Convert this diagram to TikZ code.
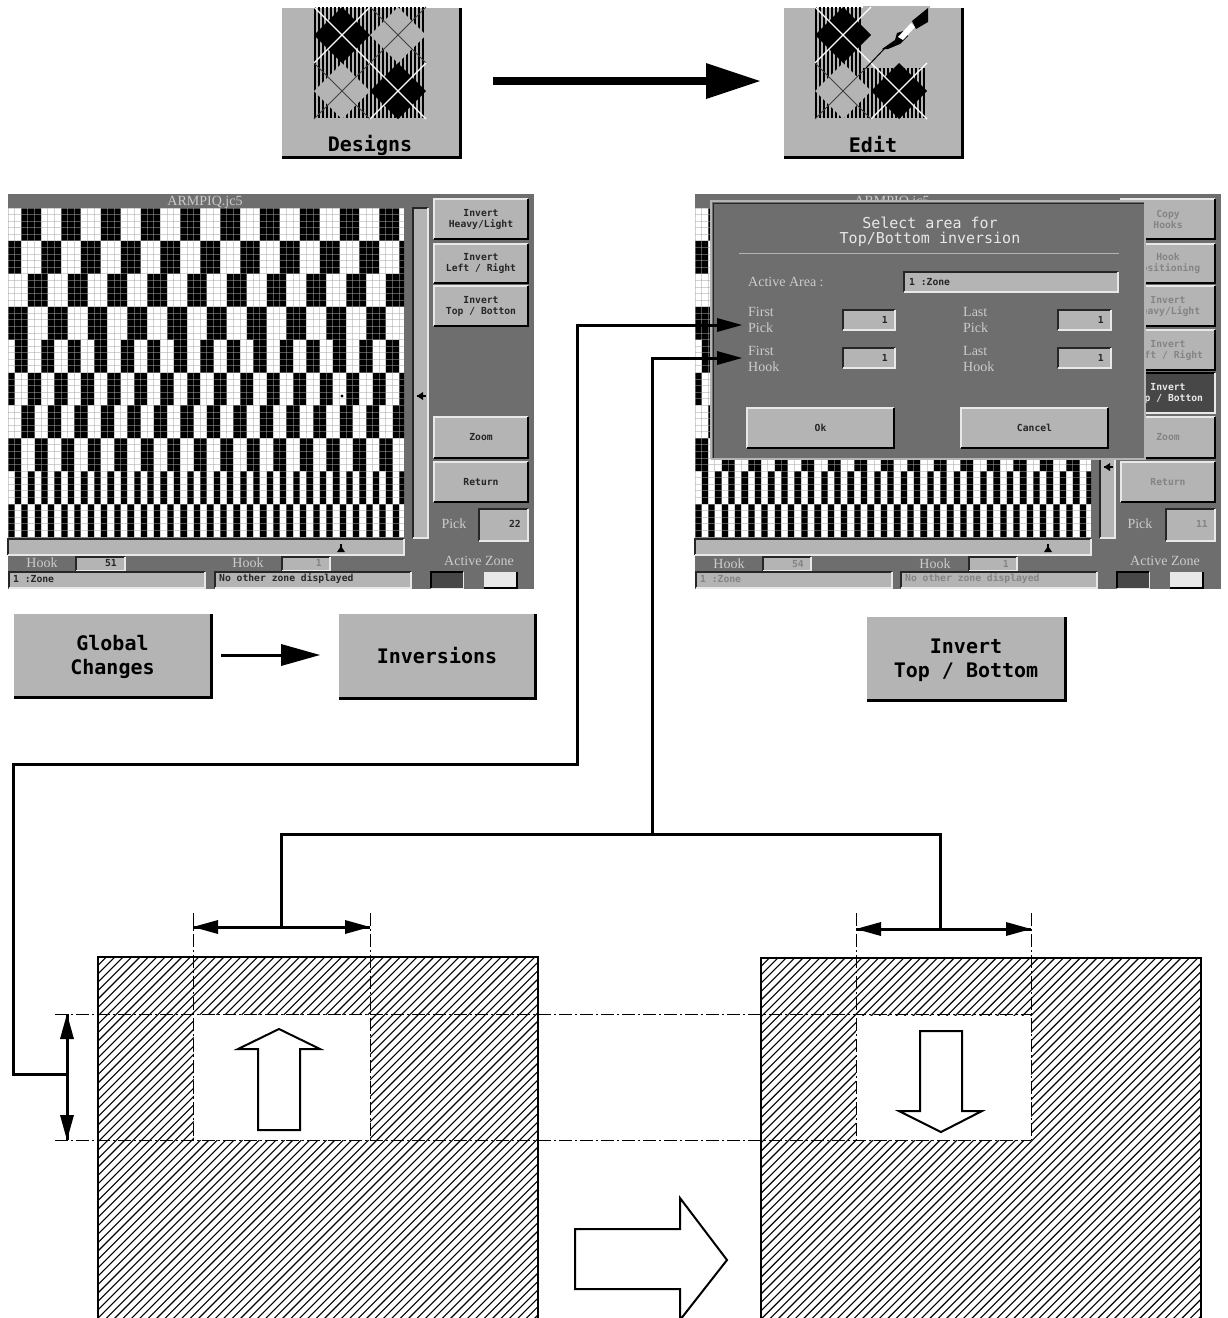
\documentclass[tikz,border=0pt]{standalone}
\usepackage{fontspec}
\setmainfont{Liberation Serif}
\setmonofont{DejaVu Sans Mono}
\usetikzlibrary{calc}
\definecolor{scr}{HTML}{6E6E6E}
\definecolor{face}{HTML}{B4B4B4}
\definecolor{hi}{HTML}{E8E8E8}
\definecolor{lab}{HTML}{CCCCCC}
\definecolor{ghost}{HTML}{848484}
\tikzset{
  x=1pt,y=-1pt,line width=1pt,
  smalltxt/.style={inner sep=0pt,align=center,font=\ttfamily\bfseries\fontsize{9.7}{11}\selectfont,text=black!85},
  ghosttxt/.style={smalltxt,text=ghost},
  seltxt/.style={smalltxt,text=hi},
  bigtxt/.style={inner sep=0pt,align=center,font=\ttfamily\bfseries\fontsize{20}{24}\selectfont,text=black},
  lbl/.style={inner sep=0pt,align=left,font=\fontsize{14}{16}\selectfont,text=lab},
  dlgtitle/.style={inner sep=0pt,align=center,font=\ttfamily\fontsize{15}{15}\selectfont,text=hi},
  dashline/.style={line width=1pt,dash pattern=on 13pt off 3pt on 2pt off 3pt},
  wire/.style={line width=3pt,line join=miter},
  tip/.style={fill=black,draw=none},
  block/.style={draw=black,line width=2pt,fill=white,line join=miter},
}
% raised button: style, name, x1,y1,x2,y2, text
\newcommand\rbtn[7]{%
  \fill[face] (#3,#4) rectangle (#5,#6);
  \draw[hi,line width=1.3pt] (#3,#6)--(#3,#4)--(#5,#4);
  \draw[black,line width=2pt] (#3,#6)--(#5,#6)--(#5,#4);
  \node[#1] (#2) at ({(#3+#5)/2},{(#4+#6)/2}) {#7};}
% big raised button on white
\newcommand\bbtn[7]{%
  \fill[face] (#2,#3) rectangle (#4,#5);
  \draw[black,line width=3pt] (#2,#5)--(#4,#5)--(#4,#3);
  \node[bigtxt] (#1) at ({(#2+#4)/2},{(#3+#5)/2+#6}) {#7};}
% sunken field: x1,y1,x2,y2
\newcommand\sunk[4]{%
  \fill[face] (#1,#2) rectangle (#3,#4);
  \draw[black!85,line width=1.3pt] (#1,#4)--(#1,#2)--(#3,#2);
  \draw[hi,line width=1.3pt] (#1,#4)--(#3,#4)--(#3,#2);}
% weave at x0
\newcommand\weave[1]{%
  \fill[white] (#1,208) rectangle ({#1+396},537);
  \begin{scope}
    \clip (#1,208) rectangle ({#1+396},537);
    \foreach \b/\o/\p/\w in {0/2/6/3,1/-1/6/3,2/3/6/3,3/0/6/3,4/1/4/2,5/-1/4/2,6/2/4/2,7/0/4/2,8/1/2/1,9/0/2/1}{
      \foreach \k in {0,...,30}{
        \fill[black] ({#1+(\k*\p+\o)*6.63},{208+\b*32.9}) rectangle ({#1+(\k*\p+\o+\w)*6.63},{208+(\b+1)*32.9});
      }
    }
    \foreach \k in {0,...,60}{\draw[black!35,opacity=.5,line width=.9pt] ({#1+\k*6.63},208)--({#1+\k*6.63},537);}
    \foreach \k in {0,...,50}{\draw[black!35,opacity=.5,line width=.9pt] (#1,{208+\k*6.58})--({#1+396},{208+\k*6.58});}
  \end{scope}}
% scrollbars and markers, offset dx, vertical marker y, horizontal marker x
\newcommand\bars[3]{%
  \sunk{413+#1}{208}{428+#1}{538}
  \sunk{8+#1}{539}{404+#1}{555}
  \fill[black] ({417+#1},{#2-1}) rectangle ({426+#1},{#2+1});
  \fill[black] ({417+#1},#2)--({423+#1},{#2-4})--({423+#1},{#2+4})--cycle;
  \fill[black] ({#3-1},544) rectangle ({#3+1},552);
  \fill[black] ({#3-4},552)--({#3+4},552)--(#3,546)--cycle;}
% hatched sheet
\newcommand\hatch[4]{%
  \begin{scope}
    \clip (#1,#2) rectangle (#3,#4);
    \foreach \k in {0,...,100}{\draw[black,line width=1.1pt] ({#1+\k*8.4},#2)--({#1+\k*8.4-370},{#2+370});}
  \end{scope}}
% argyle quadrants: x,y top-left
\newcommand\qdark[2]{%
  \fill[black] ({#1+28},#2)--({#1+56},{#2+28})--({#1+28},{#2+56})--(#1,{#2+28})--cycle;
  \draw[white,line width=1.1pt] (#1,#2)--({#1+56},{#2+56}) ({#1+56},#2)--(#1,{#2+56});}
\newcommand\qlight[2]{%
  \fill[face] ({#1+28},#2)--({#1+56},{#2+28})--({#1+28},{#2+56})--(#1,{#2+28})--cycle;
  \draw[black!75,line width=1pt] (#1,#2)--({#1+56},{#2+56}) ({#1+56},#2)--(#1,{#2+56});}
\newcommand\stripes[1]{%
  \foreach \k in {0,...,27}{\fill[black] ({#1+\k*4},7) rectangle ({#1+\k*4+2},118);}}
\begin{document}
\begin{tikzpicture}
\useasboundingbox (0,0) rectangle (1227,1318);
\fill[white] (0,0) rectangle (1227,1318);

% --- top icons
\fill[face] (282,8) rectangle (460,157);
\draw[black,line width=3pt] (282,157)--(460,157)--(460,8);
\stripes{314}
\qdark{314}{7}\qlight{370}{7}\qlight{314}{63}\qdark{370}{63}
\node[bigtxt] (designs) at (370,145) {Designs};

\fill[face] (784,8) rectangle (962,157);
\draw[black,line width=3pt] (784,157)--(962,157)--(962,8);
\stripes{815}
\fill[face] (863,6) rectangle (930,68);
\qdark{815}{7}\qlight{815}{63}\qdark{871}{63}
\draw[black,line width=1pt] (866,68)--(886,47);
\fill[black] (882,49)--(895,40)--(897,33)--(903,31)--(908,36)--(900,44)--(888,49)--cycle;
\fill[white] (898,37)--(911,23)--(915,27)--(903,40)--cycle;
\fill[black] (912,21)--(928,8)--(928,22)--(916,29)--cycle;
\node[bigtxt] (edit) at (873,145) {Edit};

\coordinate (topS) at (493,81);
\coordinate (topE) at (706,81);
\draw[black,line width=8pt] (topS)--(topE);
\fill[tip] (706,63)--(760,81)--(706,99)--cycle;

% --- left screen
\fill[scr] (8,194) rectangle (534,589);
\weave{8}
\fill[black] (342,396) circle (1.6);
\node[lbl] (ltitle) at (205,202) {ARMPIQ.jc5};
\bars{0}{396}{341}
\rbtn{smalltxt}{l1}{434}{199}{528}{239}{Invert\\Heavy/Light}
\rbtn{smalltxt}{l2}{434}{244}{528}{283}{Invert\\Left / Right}
\rbtn{smalltxt}{l3}{434}{286}{528}{326}{Invert\\Top / Botton}
\rbtn{smalltxt}{l4}{434}{417}{528}{458}{Zoom}
\rbtn{smalltxt}{l5}{434}{462}{528}{502}{Return}
\node[lbl] (lpick) at (454,524) {Pick};
\sunk{479}{509}{528}{541}
\node[smalltxt,anchor=east] (lpickv) at (521,524) {22};
\node[lbl] (lhook1) at (42,563) {Hook};
\sunk{76}{557}{125}{571}
\node[smalltxt,anchor=east] (lh1v) at (117,563) {51};
\node[lbl] (lhook2) at (248,563) {Hook};
\sunk{282}{557}{330}{571}
\node[ghosttxt,anchor=east] (lh2v) at (322,563) {1};
\node[lbl] (lactive) at (479,561) {Active Zone};
\sunk{9}{572}{205}{588}
\node[smalltxt,anchor=west] (lz1) at (13,579) {1 :Zone};
\sunk{215}{572}{411}{588}
\node[smalltxt,anchor=west] (lz2) at (219,579) {No other zone displayed};
\fill[black!72] (431,572) rectangle (463,588);
\draw[black,line width=1.2pt] (431,588)--(431,572)--(463,572);
\draw[hi,line width=1pt] (431,588)--(463,588)--(463,572);
\fill[hi] (484,572) rectangle (517,588);
\draw[black,line width=1.5pt] (484,588)--(517,588)--(517,572);

% --- right screen
\fill[scr] (695,194) rectangle (1221,589);
\weave{695}
\node[lbl] (rtitle) at (892,202) {ARMPIQ.jc5};
\bars{687}{467}{1048}
\rbtn{ghosttxt}{r1}{1121}{199}{1215}{239}{Copy\\Hooks}
\rbtn{ghosttxt}{r2}{1121}{244}{1215}{283}{Hook\\Positioning}
\rbtn{ghosttxt}{r3}{1121}{286}{1215}{326}{Invert\\Heavy/Light}
\rbtn{ghosttxt}{r4}{1121}{330}{1215}{370}{Invert\\Left / Right}
\fill[black!72] (1121,373) rectangle (1215,413);
\draw[black,line width=1.3pt] (1121,413)--(1121,373)--(1215,373);
\draw[hi,line width=1.5pt] (1121,413)--(1215,413)--(1215,373);
\node[seltxt] (r5) at (1168,393) {Invert\\Top / Botton};
\rbtn{ghosttxt}{r6}{1121}{417}{1215}{458}{Zoom}
\rbtn{ghosttxt}{r7}{1121}{462}{1215}{502}{Return}
\node[lbl] (rpick) at (1140,524) {Pick};
\sunk{1166}{509}{1215}{541}
\node[ghosttxt,anchor=east] (rpickv) at (1208,524) {11};
\node[lbl] (rhook1) at (729,564) {Hook};
\sunk{763}{557}{811}{571}
\node[ghosttxt,anchor=east] (rh1v) at (804,564) {54};
\node[lbl] (rhook2) at (935,564) {Hook};
\sunk{969}{557}{1017}{571}
\node[ghosttxt,anchor=east] (rh2v) at (1009,564) {1};
\node[lbl] (ractive) at (1165,561) {Active Zone};
\sunk{696}{572}{892}{588}
\node[ghosttxt,anchor=west] (rz1) at (700,579) {1 :Zone};
\sunk{901}{572}{1097}{588}
\node[ghosttxt,anchor=west] (rz2) at (905,579) {No other zone displayed};
\fill[black!72] (1117,572) rectangle (1149,588);
\draw[black,line width=1.2pt] (1117,588)--(1117,572)--(1149,572);
\draw[hi,line width=1pt] (1117,588)--(1149,588)--(1149,572);
\fill[hi] (1170,572) rectangle (1203,588);
\draw[black,line width=1.5pt] (1170,588)--(1203,588)--(1203,572);

% --- dialog
\fill[scr] (711,201) rectangle (1145,459);
\draw[face,line width=1.5pt] (711,459)--(711,201)--(1145,201);
\draw[black!85,line width=1pt] (713,459)--(713,203)--(1145,203);
\draw[face,line width=1.5pt] (711,459)--(1145,459)--(1145,201);
\node[dlgtitle] (dt) at (930,232) {Select area for\\Top/Bottom inversion};
\draw[face,line width=1pt] (739,253)--(1119,253);
\node[lbl,anchor=west] (da) at (748,282) {Active Area :};
\sunk{904}{272}{1118}{292}
\node[smalltxt,anchor=west] (daz) at (909,282) {1 :Zone};
\node[lbl,anchor=west] (fp) at (748,320) {First\\Pick};
\node[lbl,anchor=west] (fh) at (748,359) {First\\Hook};
\node[lbl,anchor=west] (lp) at (963,320) {Last\\Pick};
\node[lbl,anchor=west] (lh) at (963,359) {Last\\Hook};
\sunk{843}{310}{895}{330}
\sunk{843}{348}{895}{368}
\sunk{1058}{310}{1111}{330}
\sunk{1058}{348}{1111}{368}
\node[smalltxt,anchor=east] (v1) at (888,320) {1};
\node[smalltxt,anchor=east] (v2) at (888,358) {1};
\node[smalltxt,anchor=east] (v3) at (1104,320) {1};
\node[smalltxt,anchor=east] (v4) at (1104,358) {1};
\rbtn{smalltxt}{ok}{747}{408}{894}{448}{Ok}
\rbtn{smalltxt}{cancel}{961}{408}{1108}{448}{Cancel}

% --- big menu buttons
\bbtn{gc}{14}{614}{211}{697}{1}{Global\\Changes}
\bbtn{inv}{339}{614}{535}{698}{0}{Inversions}
\bbtn{itb}{867}{617}{1065}{700}{2}{Invert\\Top / Bottom}
\coordinate (smS) at (221,655);
\coordinate (smE) at (282,655);
\draw[black,line width=3pt] (smS)--(smE);
\fill[tip] (281,644)--(320,655)--(281,666)--cycle;

% --- sheets
\hatch{98}{957}{538}{1318}
\hatch{761}{958}{1201}{1318}
\fill[white] (194,1015) rectangle (370,1140);
\fill[white] (856,1016) rectangle (1031,1140);
\draw[black,line width=2.2pt] (98,1318)--(98,957)--(538,957)--(538,1318);
\draw[black,line width=1.4pt] (761,1318)--(761,958)--(1201,958)--(1201,1318);

% --- dash-dot guides
\draw[dashline] (55,1014)--(1031,1014);
\draw[dashline] (55,1140)--(1031,1140);
\draw[dashline] (193,913)--(193,1140);
\draw[dashline] (370,913)--(370,1140);
\draw[dashline] (856,913)--(856,1140);
\draw[dashline] (1031,913)--(1031,1140);

% --- block arrows
\draw[block] (279,1029)--(320,1049)--(300,1049)--(300,1130)--(258,1130)--(258,1049)--(238,1049)--cycle;
\draw[block] (920,1031)--(962,1031)--(962,1111)--(982,1111)--(941,1132)--(899,1111)--(920,1111)--cycle;
\draw[block] (575,1229)--(680,1229)--(680,1198)--(727,1260)--(680,1320)--(680,1289)--(575,1289)--cycle;

% --- dimension arrows
\coordinate (hA1) at (193,927); \coordinate (hA2) at (370,927); \coordinate (hAm) at (281,927);
\coordinate (hB1) at (856,929); \coordinate (hB2) at (1031,929); \coordinate (hBm) at (940,929);
\coordinate (vA1) at (67,1014); \coordinate (vA2) at (67,1140); \coordinate (vAm) at (67,1074);
\draw[wire] (hA1)--(hA2);
\fill[tip] (193,927)--(218,920)--(218,934)--cycle;
\fill[tip] (370,927)--(345,920)--(345,934)--cycle;
\draw[wire] (hB1)--(hB2);
\fill[tip] (856,929)--(881,922)--(881,936)--cycle;
\fill[tip] (1031,929)--(1006,922)--(1006,936)--cycle;
\draw[wire] (vA1)--(vA2);
\fill[tip] (67,1014)--(60,1039)--(74,1039)--cycle;
\fill[tip] (67,1140)--(60,1115)--(74,1115)--cycle;

% --- connectors
\coordinate (pickT) at (742,325);
\coordinate (hookT) at (742,358);
\draw[wire] (vAm)--(13,1074)--(13,764)--(577,764)--(577,325)--(720,325);
\fill[tip] (pickT)--(717,318)--(717,332)--cycle;
\draw[wire] (hAm)--(281,834)--(940,834)--(hBm);
\coordinate (bus) at (652,834);
\draw[wire] (bus)--(652,358)--(720,358);
\fill[tip] (hookT)--(717,351)--(717,365)--cycle;
\end{tikzpicture}
\end{document}
